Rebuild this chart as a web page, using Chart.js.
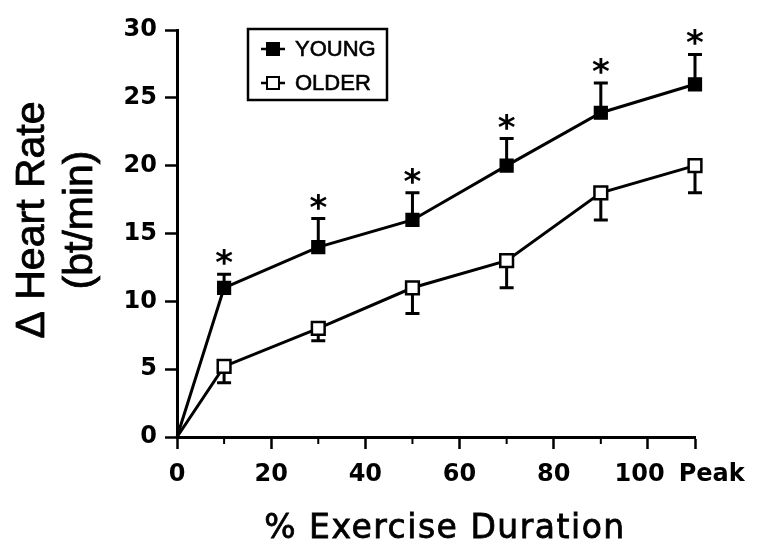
<!DOCTYPE html>
<html>
<head>
<meta charset="utf-8">
<script src="https://cdn.jsdelivr.net/npm/chart.js@4.4.1/dist/chart.umd.min.js"></script>
<style>
  html, body { margin: 0; padding: 0; background: #fff; }
  #wrap { width: 758px; height: 544px; }
</style>
</head>
<body>
<div id="wrap"><canvas id="hr" width="758" height="544"></canvas></div>
<script>
// Exercise stages (% of exercise duration; "Peak" sits one step past 100)
const stageNames = ['0', '10', '30', '50', '70', '90', 'Peak'];
const stagePct   = [0, 10, 30, 50, 70, 90, 110];

// Change in heart rate (bt/min), mean and SE
const youngHR  = [0, 11.0, 14.0, 16.0, 20.0, 23.9, 26.0];
const youngSE  = [0, 1.0, 2.1, 2.0, 2.0, 2.2, 2.2];
const olderHR  = [0, 5.2, 8.0, 11.0, 13.0, 18.0, 20.0];
const olderSE  = [0, 1.2, 0.9, 1.9, 2.0, 2.0, 2.0];
// Young vs older difference significant at each stage
const significant = [false, true, true, true, true, true, true];

// Axis tick labels, one per 10% step from 0 to Peak
const xTickLabels = ['0', '', '20', '', '40', '', '60', '', '80', '', '100', 'Peak'];
const yTickStep = 5;

const seriesNames = ['YOUNG', 'OLDER'];
const yTitleLines = ['\u0394 Heart Rate', '(bt/min)'];
const xTitle = '% Exercise Duration';

const INK = '#000';
const tickFont = { family: 'DejaVu Sans', size: 24, weight: 'bold' };

function toPoints(vals) {
  return vals.map((v, i) => ({ x: stagePct[i], y: v }));
}

// Error bars: young drawn upward, older drawn downward
const errorBars = {
  id: 'errorBars',
  beforeDatasetsDraw(chart) {
    const { ctx, scales: { x, y } } = chart;
    const sets = [
      { mean: youngHR, se: youngSE, dir: 1 },
      { mean: olderHR, se: olderSE, dir: -1 }
    ];
    ctx.save();
    ctx.strokeStyle = INK;
    ctx.lineWidth = 3;
    sets.forEach(s => {
      s.mean.forEach((m, i) => {
        if (!s.se[i]) return;
        const px = x.getPixelForValue(stagePct[i]);
        const p0 = y.getPixelForValue(m);
        const p1 = y.getPixelForValue(m + s.dir * s.se[i]);
        ctx.beginPath();
        ctx.moveTo(px, p0);
        ctx.lineTo(px, p1);
        ctx.moveTo(px - 7, p1);
        ctx.lineTo(px + 7, p1);
        ctx.stroke();
      });
    });
    ctx.restore();
  }
};

// Significance asterisks above the young error bars, short minor x ticks
const annotations = {
  id: 'annotations',
  afterDraw(chart) {
    const { ctx, scales: { x, y } } = chart;
    ctx.save();
    ctx.fillStyle = INK;
    ctx.font = 'bold 34px "DejaVu Sans"';
    ctx.textAlign = 'center';
    ctx.textBaseline = 'alphabetic';
    const m = ctx.measureText('*');
    const half = (m.actualBoundingBoxAscent - m.actualBoundingBoxDescent) / 2;
    significant.forEach((sig, i) => {
      if (!sig) return;
      const px = x.getPixelForValue(stagePct[i]);
      const top = y.getPixelForValue(youngHR[i] + youngSE[i]);
      ctx.fillText('*', px, top - 17 + half);
    });

    // minor ticks at odd tens
    ctx.strokeStyle = INK;
    ctx.lineWidth = 2;
    const base = chart.chartArea.bottom;
    for (let v = 10; v < 110; v += 20) {
      const px = x.getPixelForValue(v);
      ctx.beginPath();
      ctx.moveTo(px, base);
      ctx.lineTo(px, base + 7);
      ctx.stroke();
    }
    ctx.restore();
  }
};

// Axis titles
const axisTitles = {
  id: 'axisTitles',
  afterDraw(chart) {
    const { ctx, chartArea } = chart;
    ctx.save();
    ctx.fillStyle = INK;
    ctx.strokeStyle = INK;
    ctx.textAlign = 'center';
    ctx.textBaseline = 'alphabetic';

    ctx.font = '41px "Liberation Sans"';
    ctx.lineWidth = 0.8;
    const yc = 220;
    [44, 92].forEach((bx, k) => {
      ctx.save();
      ctx.translate(bx, yc);
      ctx.rotate(-Math.PI / 2);
      ctx.fillText(yTitleLines[k], 0, 0);
      ctx.strokeText(yTitleLines[k], 0, 0);
      ctx.restore();
    });

    ctx.font = '33px "DejaVu Sans"';
    if ('letterSpacing' in ctx) ctx.letterSpacing = '1.5px';
    const tx = (chartArea.left + chartArea.right) / 2 + 9;
    ctx.fillText(xTitle, tx, 538);
    ctx.strokeText(xTitle, tx, 538);
    if ('letterSpacing' in ctx) ctx.letterSpacing = '0px';
    ctx.restore();
  }
};

// Boxed legend in the upper left of the plot
const boxLegend = {
  id: 'boxLegend',
  afterDraw(chart) {
    const { ctx } = chart;
    ctx.save();
    ctx.strokeStyle = INK;
    ctx.lineWidth = 2.5;
    ctx.strokeRect(248, 29, 139, 71);
    const rows = [
      { name: seriesNames[0], y: 49, fill: INK },
      { name: seriesNames[1], y: 83, fill: '#fff' }
    ];
    ctx.font = '22px "Liberation Sans"';
    ctx.textAlign = 'left';
    ctx.textBaseline = 'middle';
    rows.forEach(r => {
      ctx.lineWidth = 2.5;
      ctx.beginPath();
      ctx.moveTo(261, r.y);
      ctx.lineTo(285, r.y);
      ctx.stroke();
      ctx.fillStyle = r.fill;
      ctx.fillRect(267, r.y - 6, 12, 12);
      ctx.lineWidth = 2;
      ctx.strokeRect(267, r.y - 6, 12, 12);
      ctx.fillStyle = INK;
      ctx.lineWidth = 0.6;
      ctx.fillText(r.name, 295, r.y + 1);
      ctx.strokeText(r.name, 295, r.y + 1);
    });
    ctx.restore();
  }
};

const radii = stageNames.map((s, i) => (i === 0 ? 0 : 9));

new Chart(document.getElementById('hr'), {
  type: 'line',
  data: {
    datasets: [
      {
        label: seriesNames[0],
        data: toPoints(youngHR),
        borderColor: INK,
        borderWidth: 3,
        backgroundColor: INK,
        pointStyle: 'rect',
        pointRadius: radii,
        pointBorderWidth: 1.5,
        pointBackgroundColor: INK,
        pointBorderColor: INK,
        tension: 0,
        clip: false
      },
      {
        label: seriesNames[1],
        data: toPoints(olderHR),
        borderColor: INK,
        borderWidth: 3,
        backgroundColor: '#fff',
        pointStyle: 'rect',
        pointRadius: radii,
        pointBorderWidth: 2.5,
        pointBackgroundColor: '#fff',
        pointBorderColor: INK,
        tension: 0,
        clip: false
      }
    ]
  },
  options: {
    responsive: false,
    devicePixelRatio: 1,
    animation: false,
    layout: { padding: { left: 0, top: 30, right: 63, bottom: 0 } },
    plugins: {
      legend: { display: false },
      tooltip: { enabled: false },
      title: { display: false }
    },
    scales: {
      x: {
        type: 'linear',
        min: 0,
        max: 110,
        afterFit(scale) { scale.height = 107; },
        ticks: {
          stepSize: 10,
          autoSkip: false,
          maxRotation: 0,
          color: INK,
          font: tickFont,
          padding: 11,
          callback(value, index) {
            const t = xTickLabels[index] || '';
            if (t === 'Peak') return '    ' + t;
            if (t === '100') return t + '  ';
            return t;
          }
        },
        grid: {
          drawOnChartArea: false,
          drawTicks: true,
          tickLength: 12,
          tickWidth: 2.5,
          tickColor: c => (c.tick && (c.tick.value % 20 === 0 || c.tick.value === 110)) ? INK : 'rgba(0,0,0,0)'
        },
        border: { display: true, color: INK, width: 3 }
      },
      y: {
        type: 'linear',
        min: 0,
        max: 30,
        afterFit(scale) { scale.width = 177; },
        ticks: {
          stepSize: yTickStep,
          color: INK,
          font: tickFont,
          padding: 8
        },
        grid: {
          drawOnChartArea: false,
          drawTicks: true,
          tickLength: 12,
          tickWidth: 2.5,
          tickColor: INK
        },
        border: { display: true, color: INK, width: 3 }
      }
    }
  },
  plugins: [errorBars, annotations, axisTitles, boxLegend]
});
</script>
</body>
</html>
